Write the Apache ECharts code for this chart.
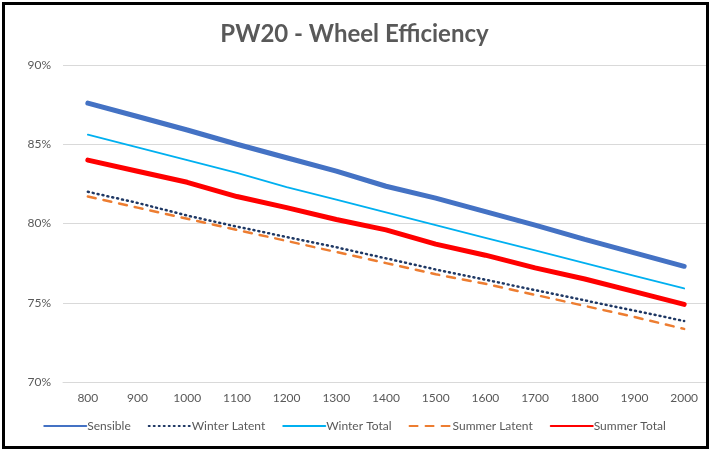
<!DOCTYPE html>
<html>
<head>
<meta charset="utf-8">
<script src="https://cdn.jsdelivr.net/npm/echarts@6/dist/echarts.min.js"></script>
<style>
html,body{margin:0;padding:0;background:#fff;}
#chart{width:709px;height:451px;}
</style>
</head>
<body>
<div id="chart"></div>
<script>
var categories = ['800','900','1000','1100','1200','1300','1400','1500','1600','1700','1800','1900','2000'];
var sensible     = [87.6, 86.75, 85.9, 85.0, 84.15, 83.3, 82.35, 81.6, 80.75, 79.9, 79.0, 78.15, 77.3];
var winterLatent = [82.0, 81.3, 80.5, 79.8, 79.15, 78.5, 77.8, 77.1, 76.45, 75.8, 75.15, 74.5, 73.85];
var winterTotal  = [85.6, 84.8, 84.0, 83.2, 82.3, 81.5, 80.7, 79.9, 79.1, 78.3, 77.5, 76.7, 75.9];
var summerLatent = [81.7, 81.0, 80.3, 79.6, 78.9, 78.2, 77.5, 76.8, 76.2, 75.5, 74.8, 74.1, 73.35];
var summerTotal  = [84.0, 83.3, 82.6, 81.7, 81.0, 80.25, 79.6, 78.7, 78.0, 77.2, 76.5, 75.7, 74.9];

var chart = echarts.init(document.getElementById('chart'), null, {renderer:'canvas'});
var font = 'Lato, "Open Sans", sans-serif';
function mk(name, data, color, width, type) {
  return {
    name: name, type: 'line', data: data, showSymbol: false, symbol: 'none',
    smooth: false, animation: false,
    lineStyle: {color: color, width: width, type: type, cap: 'round'},
    itemStyle: {color: color}
  };
}
chart.setOption({
  animation: false,
  title: {
    text: 'PW20 - Wheel Efficiency', left: 'center', top: 17,
    textStyle: {color: '#595959', fontSize: 24, fontWeight: 'bold', fontFamily: font}
  },
  legend: {
    bottom: 14, left: 'center', itemWidth: 42, itemHeight: 10, itemGap: 17,
    itemStyle: {opacity: 0},
    textStyle: {color: '#595959', fontSize: 12, fontFamily: font, padding: [0,0,0,-4]},
    data: ['Sensible','Winter Latent','Winter Total','Summer Latent','Summer Total']
  },
  grid: {left: 63, top: 65, width: 654, height: 317, containLabel: false},
  xAxis: {
    type: 'category', data: categories, boundaryGap: true,
    axisLine: {show: true, lineStyle: {color: '#D9D9D9'}},
    axisTick: {show: false},
    axisLabel: {color: '#595959', fontSize: 12, fontFamily: font, margin: 10}
  },
  yAxis: {
    type: 'value', min: 70, max: 90, interval: 5,
    axisLine: {show: false}, axisTick: {show: false},
    axisLabel: {formatter: '{value}%', color: '#595959', fontSize: 12, fontFamily: font, margin: 12},
    splitLine: {lineStyle: {color: '#D9D9D9', width: 1}}
  },
  series: [
    mk('Sensible', sensible, '#4472C4', 5, 'solid'),
    mk('Winter Latent', winterLatent, '#1F3864', 2.5, [1, 4]),
    mk('Winter Total', winterTotal, '#00B0F0', 1.8, 'solid'),
    mk('Summer Latent', summerLatent, '#ED7D31', 2.5, [8, 8]),
    mk('Summer Total', summerTotal, '#FF0000', 5, 'solid')
  ],
  graphic: [{
    type: 'rect', z: 100, silent: true,
    shape: {x: 3.5, y: 3.5, width: 704, height: 444},
    style: {fill: 'none', stroke: '#000', lineWidth: 3}
  }]
});
</script>
</body>
</html>
